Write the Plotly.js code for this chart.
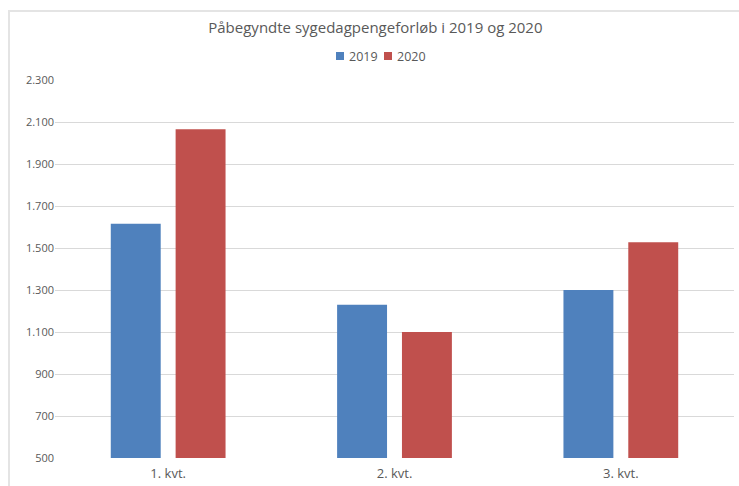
<!DOCTYPE html>
<html>
<head>
<meta charset="utf-8">
<script src="https://cdn.plot.ly/plotly-3.0.1.min.js"></script>
<style>
html,body{margin:0;padding:0;background:#fff;}
#wrap{position:relative;width:739px;height:486px;overflow:hidden;}
#frame{position:absolute;left:8px;top:10px;width:740px;height:490px;border-left:2px solid #e4e4e4;border-top:2px solid #e4e4e4;box-sizing:border-box;}
#chart{position:absolute;left:0;top:0;width:739px;height:486px;}
</style>
</head>
<body>
<div id="wrap">
<div id="chart"></div>
<div id="frame"></div>
</div>
<script>
const categories = ["1. kvt.", "2. kvt.", "3. kvt."];
const series2019 = [1615, 1230, 1300];
const series2020 = [2065, 1100, 1527];
const seriesNames = ["2019", "2020"];
const seriesColors = ["#4F81BD", "#C0504D"];
const tickValues = [500, 700, 900, 1100, 1300, 1500, 1700, 1900, 2100, 2300];
const tickLabels = ["500", "700", "900", "1.100", "1.300", "1.500", "1.700", "1.900", "2.100", "2.300"];

const font = "Open Sans, Noto Sans, sans-serif";
const traces = [
  {type: "bar", name: seriesNames[0], x: categories, y: series2019,
   marker: {color: seriesColors[0]}, hoverinfo: "none"},
  {type: "bar", name: seriesNames[1], x: categories, y: series2020,
   marker: {color: seriesColors[1]}, hoverinfo: "none"}
];

// custom legend (small squares like the original)
const M = {l: 55, r: 5, t: 80, b: 28};
const W = 739, H = 486;
const pw = W - M.l - M.r, ph = H - M.t - M.b;
const px = v => (v - M.l) / pw;
const py = v => (H - M.b - v) / ph;
const legendLeft = [336, 384];
const legendY = 56;
const shapes = [], annotations = [];
seriesNames.forEach((n, i) => {
  shapes.push({type: "rect", xref: "paper", yref: "paper",
    xsizemode: "pixel", ysizemode: "pixel",
    xanchor: px(legendLeft[i]), yanchor: py(legendY),
    x0: 0, x1: 8, y0: -4, y1: 4,
    fillcolor: seriesColors[i], line: {width: 0}});
  annotations.push({xref: "paper", yref: "paper", x: px(legendLeft[i] + 11), y: py(legendY),
    xanchor: "left", yanchor: "middle", showarrow: false, text: n,
    font: {family: font, size: 12.5, color: "#595959"}});
});

const layout = {
  width: W, height: H,
  margin: {l: M.l, r: M.r, t: M.t, b: M.b, pad: 0},
  paper_bgcolor: "#fff", plot_bgcolor: "#fff",
  font: {family: font, color: "#595959", size: 11},
  title: {text: "Påbegyndte sygedagpengeforløb i 2019 og 2020",
          font: {family: font, size: 15, color: "#595959"},
          x: 0.508, xanchor: "center", y: 1 - 28/486, yanchor: "middle"},
  barmode: "group", bargap: 0.427, bargroupgap: 0.23,
  showlegend: false,
  shapes: shapes, annotations: annotations,
  xaxis: {type: "category", showgrid: false, showline: false, zeroline: false,
          ticks: "", ticklabelstandoff: 6,
          tickfont: {family: font, size: 13, color: "#595959"}},
  yaxis: {range: [500, 2300], tickvals: tickValues, ticktext: tickLabels,
          showgrid: true, gridcolor: "#d9d9d9", gridwidth: 1, zeroline: false,
          showline: false, ticks: "", ticklabelstandoff: 0,
          tickfont: {family: font, size: 11, color: "#595959"}}
};
Plotly.newPlot("chart", traces, layout, {staticPlot: true, displayModeBar: false});
</script>
</body>
</html>
